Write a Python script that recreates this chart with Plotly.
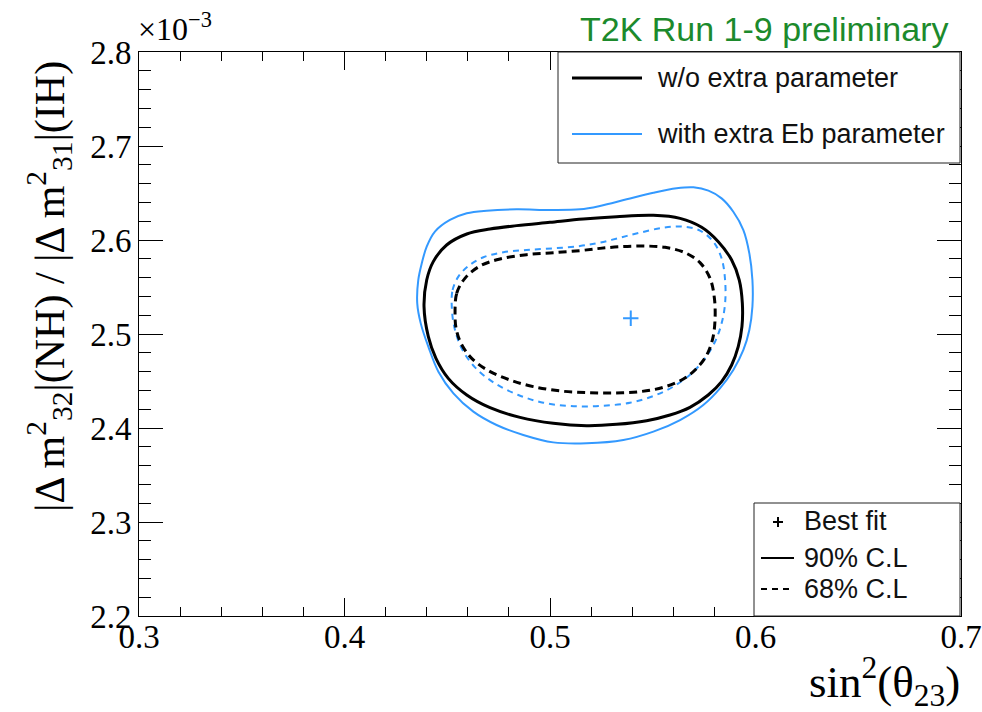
import plotly.graph_objects as go

# sin^2(theta_23) and |dm^2| (units of 1e-3 eV^2) along each confidence contour

# 90% C.L., without the extra parameter
theta_90_nom = [0.4387, 0.4400, 0.4432, 0.4497, 0.4595, 0.4708, 0.4838, 0.5000, 0.5162,
                0.5324, 0.5503, 0.5633, 0.5738, 0.5819, 0.5884, 0.5921, 0.5936, 0.5934,
                0.5916, 0.5884, 0.5835, 0.5770, 0.5681, 0.5584, 0.5470, 0.5324, 0.5178,
                0.5016, 0.4854, 0.4708, 0.4595, 0.4505, 0.4445, 0.4408]
dm2_90_nom = [2.5291, 2.5574, 2.5770, 2.5947, 2.6064, 2.6117, 2.6153, 2.6188, 2.6223,
              2.6248, 2.6262, 2.6230, 2.6135, 2.5982, 2.5787, 2.5574, 2.5326, 2.5078,
              2.4865, 2.4670, 2.4493, 2.4351, 2.4220, 2.4138, 2.4078, 2.4039, 2.4025,
              2.4050, 2.4113, 2.4216, 2.4351, 2.4528, 2.4741, 2.4972]

# 68% C.L., without the extra parameter
theta_68_nom = [0.4538, 0.4546, 0.4586, 0.4659, 0.4757, 0.4886, 0.5016, 0.5146, 0.5243,
                0.5341, 0.5454, 0.5560, 0.5657, 0.5730, 0.5779, 0.5800, 0.5803, 0.5792,
                0.5763, 0.5714, 0.5649, 0.5552, 0.5438, 0.5308, 0.5178, 0.5049, 0.4919,
                0.4805, 0.4700, 0.4619, 0.4567, 0.4543]
dm2_68_nom = [2.5220, 2.5433, 2.5592, 2.5723, 2.5798, 2.5844, 2.5865, 2.5887, 2.5911,
              2.5929, 2.5936, 2.5922, 2.5865, 2.5759, 2.5592, 2.5380, 2.5149, 2.4954,
              2.4777, 2.4635, 2.4521, 2.4433, 2.4387, 2.4372, 2.4376, 2.4394, 2.4440,
              2.4511, 2.4610, 2.4741, 2.4901, 2.5060]

# 90% C.L., with the extra Eb parameter
theta_90_eb = [0.4354, 0.4359, 0.4376, 0.4400, 0.4440, 0.4513, 0.4595, 0.4692, 0.4838,
               0.5000, 0.5146, 0.5243, 0.5373, 0.5503, 0.5616, 0.5698, 0.5771, 0.5835,
               0.5892, 0.5941, 0.5970, 0.5985, 0.5985, 0.5970, 0.5941, 0.5892, 0.5827,
               0.5746, 0.5633, 0.5503, 0.5357, 0.5178, 0.5016, 0.4870, 0.4740, 0.4627,
               0.4530, 0.4457, 0.4408, 0.4371]
dm2_90_eb = [2.5326, 2.5574, 2.5752, 2.5929, 2.6089, 2.6213, 2.6284, 2.6312, 2.6326,
             2.6319, 2.6326, 2.6362, 2.6433, 2.6503, 2.6550, 2.6560, 2.6525, 2.6443,
             2.6301, 2.6106, 2.5858, 2.5574, 2.5291, 2.5043, 2.4830, 2.4617, 2.4422,
             2.4245, 2.4085, 2.3961, 2.3872, 2.3837, 2.3847, 2.3926, 2.4032, 2.4174,
             2.4369, 2.4599, 2.4865, 2.5113]

# 68% C.L., with the extra Eb parameter
theta_68_eb = [0.4522, 0.4526, 0.4554, 0.4603, 0.4676, 0.4773, 0.4886, 0.5016, 0.5146,
               0.5243, 0.5341, 0.5438, 0.5552, 0.5649, 0.5730, 0.5795, 0.5835, 0.5852,
               0.5852, 0.5835, 0.5803, 0.5754, 0.5689, 0.5600, 0.5503, 0.5389, 0.5243,
               0.5097, 0.4968, 0.4846, 0.4732, 0.4635, 0.4570, 0.4534]
dm2_68_eb = [2.5291, 2.5468, 2.5610, 2.5723, 2.5816, 2.5869, 2.5894, 2.5911, 2.5936,
             2.5972, 2.6025, 2.6078, 2.6131, 2.6142, 2.6099, 2.5982, 2.5805, 2.5574,
             2.5326, 2.5113, 2.4918, 2.4741, 2.4582, 2.4440, 2.4340, 2.4269, 2.4234,
             2.4234, 2.4269, 2.4351, 2.4475, 2.4645, 2.4847, 2.5078]

# Best-fit point (with extra Eb parameter)
best_theta = [0.5393]
best_dm2 = [2.5167]

x_ticks = [0.3, 0.4, 0.5, 0.6, 0.7]
y_ticks = [2.2, 2.3, 2.4, 2.5, 2.6, 2.7, 2.8]

BLACK = "#000000"
BLUE = "#3399ff"
GREEN = "#1c8a2c"
SERIF = "Liberation Serif"
SANS = "Liberation Sans"


def closed(a):
    return list(a) + [a[0]]


fig = go.Figure()

contours = [
    (theta_90_eb, dm2_90_eb, BLUE, 2, "solid"),
    (theta_68_eb, dm2_68_eb, BLUE, 2, "6px,5px"),
    (theta_90_nom, dm2_90_nom, BLACK, 3, "solid"),
    (theta_68_nom, dm2_68_nom, BLACK, 3, "8px,5px"),
]
for xs, ys, col, w, dash in contours:
    fig.add_trace(go.Scatter(
        x=closed(xs), y=closed(ys), mode="lines",
        line=dict(color=col, width=w, dash=dash, shape="spline", smoothing=1.0),
        showlegend=False, hoverinfo="skip"))

fig.add_trace(go.Scatter(
    x=best_theta, y=best_dm2, mode="markers",
    marker=dict(symbol="cross-thin", size=11, line=dict(color=BLUE, width=2)),
    showlegend=False, hoverinfo="skip"))

# Plot frame in pixels: x 139..961, y 52..616
FIG_W, FIG_H = 982, 712
L, R, T, B = 139, 961, 52, 616
W, H = R - L, B - T


def px(x):
    return (x - L) / W


def py(y):
    return (B - y) / H


shapes = []
annotations = []

# Legend box 1
shapes.append(dict(type="rect", xref="paper", yref="paper",
                   x0=px(558), x1=px(960), y0=py(163), y1=py(52),
                   line=dict(color="#222222", width=1), fillcolor="white", layer="above"))
shapes.append(dict(type="line", xref="paper", yref="paper",
                   x0=px(572), x1=px(642), y0=py(78), y1=py(78),
                   line=dict(color=BLACK, width=3), layer="above"))
shapes.append(dict(type="line", xref="paper", yref="paper",
                   x0=px(572), x1=px(642), y0=py(134), y1=py(134),
                   line=dict(color=BLUE, width=2), layer="above"))
for txt, yy in [("w/o extra parameter", 78), ("with extra Eb parameter", 134)]:
    annotations.append(dict(text=txt, xref="paper", yref="paper", x=px(655), y=py(yy),
                            xanchor="left", yanchor="middle", showarrow=False,
                            font=dict(family=SANS, size=27, color="#111111")))

# Legend box 2
shapes.append(dict(type="rect", xref="paper", yref="paper",
                   x0=px(754), x1=px(960), y0=py(616), y1=py(503),
                   line=dict(color="#222222", width=1), fillcolor="white", layer="above"))
shapes.append(dict(type="line", xref="paper", yref="paper",
                   x0=px(773), x1=px(783), y0=py(522), y1=py(522),
                   line=dict(color=BLACK, width=2), layer="above"))
shapes.append(dict(type="line", xref="paper", yref="paper",
                   x0=px(778), x1=px(778), y0=py(517), y1=py(527),
                   line=dict(color=BLACK, width=2), layer="above"))
shapes.append(dict(type="line", xref="paper", yref="paper",
                   x0=px(761), x1=px(794), y0=py(558), y1=py(558),
                   line=dict(color=BLACK, width=2), layer="above"))
shapes.append(dict(type="line", xref="paper", yref="paper",
                   x0=px(761), x1=px(794), y0=py(589), y1=py(589),
                   line=dict(color=BLACK, width=2, dash="6px,5px"), layer="above"))
for txt, yy in [("Best fit", 521), ("90% C.L", 558), ("68% C.L", 589)]:
    annotations.append(dict(text=txt, xref="paper", yref="paper", x=px(802), y=py(yy),
                            xanchor="left", yanchor="middle", showarrow=False,
                            font=dict(family=SANS, size=27, color="#111111")))

# Experiment label
annotations.append(dict(text="T2K Run 1-9 preliminary", xref="paper", yref="paper",
                        x=px(950), y=py(29), xanchor="right", yanchor="middle",
                        showarrow=False, font=dict(family=SANS, size=34, color=GREEN)))

# Exponent of the y axis
annotations.append(dict(text="×10<sup>−3</sup>", xref="paper", yref="paper",
                        x=px(136), y=py(49), xanchor="left", yanchor="bottom",
                        showarrow=False, font=dict(family=SERIF, size=32, color=BLACK)))

# Axis titles
annotations.append(dict(text="sin<sup>2</sup>(θ<sub>23</sub>)", xref="paper", yref="paper",
                        x=px(962), y=py(648), xanchor="right", yanchor="top",
                        showarrow=False, font=dict(family=SERIF, size=45, color=BLACK)))
annotations.append(dict(text="|Δ m<sup>2</sup><sub>32</sub>|(NH) / |Δ m<sup>2</sup><sub>31</sub>|(IH)",
                        xref="paper", yref="paper", x=px(49), y=py(287),
                        xanchor="center", yanchor="middle", textangle=-90,
                        showarrow=False, font=dict(family=SERIF, size=42, color=BLACK)))

axis_common = dict(
    showline=True, linecolor=BLACK, linewidth=1, mirror="ticks",
    ticks="inside", tickcolor=BLACK, tickwidth=1,
    showgrid=False, zeroline=False, tickformat=".1f",
    tickfont=dict(family=SERIF, size=33, color=BLACK),
)

fig.update_layout(
    width=FIG_W, height=FIG_H, autosize=False,
    margin=dict(l=L, r=FIG_W - R, t=T, b=FIG_H - B, pad=0, autoexpand=False),
    plot_bgcolor="white", paper_bgcolor="white",
    showlegend=False,
    xaxis=dict(range=[0.3, 0.7], tickvals=x_ticks, ticklen=18, ticklabelstandoff=-9,
               minor=dict(dtick=0.02, tick0=0.3, ticklen=9, ticks="inside",
                          tickcolor=BLACK, tickwidth=1, showgrid=False),
               **axis_common),
    yaxis=dict(range=[2.2, 2.8], tickvals=y_ticks, ticklen=24,
               minor=dict(dtick=0.02, tick0=2.2, ticklen=12, ticks="inside",
                          tickcolor=BLACK, tickwidth=1, showgrid=False),
               **axis_common),
    shapes=shapes,
    annotations=annotations,
)

fig.write_html("out.html", config={"responsive": False})
